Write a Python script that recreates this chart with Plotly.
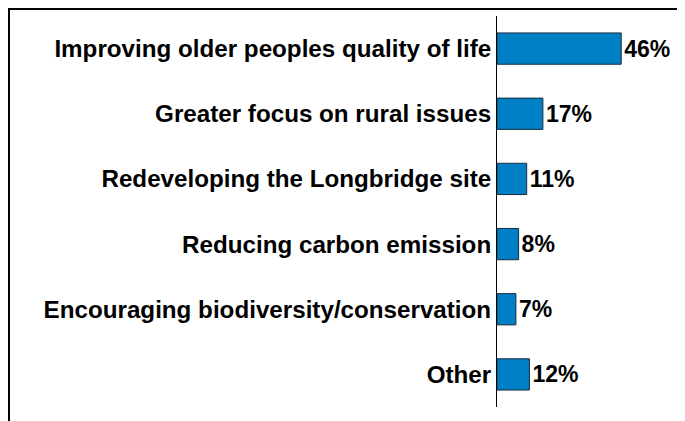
import plotly.graph_objects as go

# data
categories = [
    "Improving older peoples quality of life",
    "Greater focus on rural issues",
    "Redeveloping the Longbridge site",
    "Reducing carbon emission",
    "Encouraging biodiversity/conservation",
    "Other",
]
values = [46, 17, 11, 8, 7, 12]
labels = [f"{v}%" for v in values]

# page body has an 8px margin, so the figure is drawn 8px in from the window
OFF = 8
W, H = 685 - OFF, 421 - OFF
ML, MR, MT, MB = 497 - OFF, 0, 16 - OFF, 14
pw = W - ML - MR
ph = H - MT - MB


def px_x(x):
    return (x - ML) / pw


def px_y(y):
    return 1 - (y - MT) / ph


fig = go.Figure(
    go.Bar(
        x=values,
        y=categories,
        orientation="h",
        text=labels,
        textposition="outside",
        cliponaxis=False,
        marker=dict(color="#0080C4", line=dict(color="#1A2A3F", width=1)),
        textfont=dict(family="Liberation Sans, Arial", size=23, color="black", weight="bold"),
        width=0.48,
    )
)

fig.update_layout(
    width=W,
    height=H,
    margin=dict(l=ML, r=MR, t=MT, b=MB),
    paper_bgcolor="white",
    plot_bgcolor="white",
    showlegend=False,
    font=dict(family="Liberation Sans, Arial", color="black"),
    xaxis=dict(range=[0, pw / 2.7], visible=False, fixedrange=True),
    yaxis=dict(
        autorange="reversed",
        showline=True,
        linecolor="black",
        linewidth=1,
        ticks="",
        showgrid=False,
        ticklabelstandoff=0,
        tickfont=dict(size=24.2, family="Liberation Sans, Arial", color="black", weight="bold"),
    ),
    shapes=[
        dict(
            type="rect",
            xref="paper",
            yref="paper",
            x0=px_x(1),
            x1=px_x(W + 10),
            y0=px_y(H + 10),
            y1=px_y(1),
            line=dict(color="black", width=2),
            layer="above",
        )
    ],
)

fig.write_html("out.html")
